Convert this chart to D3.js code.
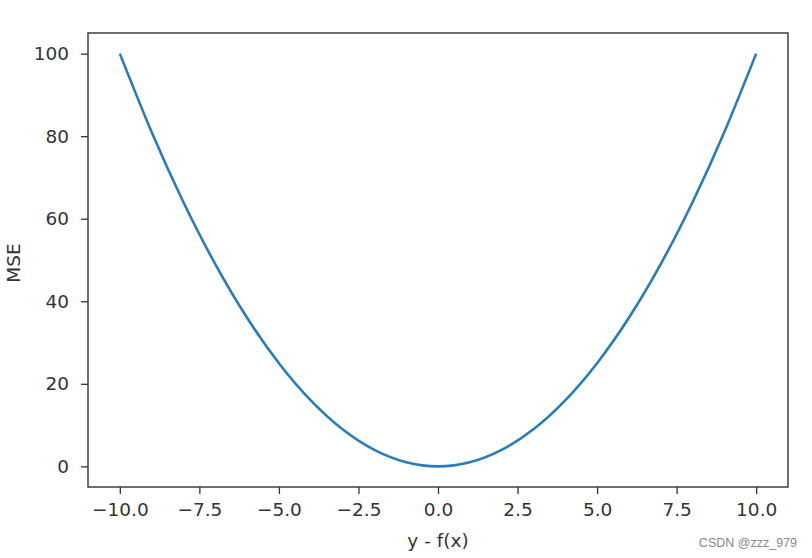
<!DOCTYPE html>
<html>
<head>
<meta charset="utf-8">
<script src="https://cdn.jsdelivr.net/npm/d3@7"></script>
<style>
  body { margin: 0; background: #fff; }
  svg { display: block; font-family: "DejaVu Sans", sans-serif; }
</style>
</head>
<body>
<script>
// data
var errors = [-10, -9, -8, -7, -6, -5, -4, -3, -2, -1, 0, 1, 2, 3, 4, 5, 6, 7, 8, 9, 10];
var mse = [100, 81, 64, 49, 36, 25, 16, 9, 4, 1, 0, 1, 4, 9, 16, 25, 36, 49, 64, 81, 100];
var xTicks = [-10, -7.5, -5, -2.5, 0, 2.5, 5, 7.5, 10];
var yTicks = [0, 20, 40, 60, 80, 100];

var width = 812;
var height = 558;

var margin = {
    top: 33,
    bottom: 71,
    left: 88,
    right: 24,
}

var svg = d3.select("body")
    .append("svg")
    .attr("width", width)
    .attr("height", height);

var innerW = width - margin.left - margin.right;
var innerH = height - margin.top - margin.bottom;

var g = svg.append('g')
    .attr('transform', 'translate(' + margin.left + ',' + margin.top + ')');

var x = d3.scaleLinear().domain([-11, 11]).range([0, innerW]);
var y = d3.scaleLinear().domain([-5, 105]).range([innerH, 0]);

var points = errors.map(function(d, i) {
    return [d, mse[i]];
});

var line = d3.line()
    .x(function(d) { return x(d[0]); })
    .y(function(d) { return y(d[1]); })
    .curve(d3.curveNatural);

g.append("path")
    .datum(points)
    .attr("fill", "none")
    .attr("stroke", "#2a7cb8")
    .attr("stroke-width", 2.6)
    .attr("d", line);

// axes
var fmtX = function(d) { return d3.format(".1f")(d).replace("-", "\u2212"); };

var xAxis = g.append("g")
    .attr("transform", "translate(0," + innerH + ")")
    .call(d3.axisBottom(x).tickValues(xTicks).tickFormat(fmtX).tickSize(7).tickPadding(9));

var yAxis = g.append("g")
    .call(d3.axisLeft(y).tickValues(yTicks).tickSize(7).tickPadding(12));

[xAxis, yAxis].forEach(function(a) {
    a.select(".domain").remove();
    a.selectAll("line").attr("stroke", "#333").attr("stroke-width", 1.3);
    a.selectAll("text")
        .attr("fill", "#333")
        .style("font-size", "18.5px")
        .style("font-family", "DejaVu Sans, sans-serif");
});

// frame
g.append("rect")
    .attr("width", innerW)
    .attr("height", innerH)
    .attr("fill", "none")
    .attr("stroke", "#333")
    .attr("stroke-width", 1.4);

// labels
svg.append("text")
    .attr("x", margin.left + innerW / 2)
    .attr("y", 547)
    .attr("text-anchor", "middle")
    .attr("fill", "#333")
    .style("font-size", "18.5px")
    .text("y - f(x)");

svg.append("text")
    .attr("transform", "translate(20," + (margin.top + innerH / 2 + 3) + ") rotate(-90)")
    .attr("text-anchor", "middle")
    .attr("fill", "#333")
    .style("font-size", "18.5px")
    .text("MSE");

svg.append("text")
    .attr("x", 797)
    .attr("y", 547)
    .attr("text-anchor", "end")
    .attr("fill", "#888")
    .style("font-size", "12.5px")
    .style("font-family", "Liberation Sans, Arial, sans-serif")
    .text("CSDN @zzz_979");
</script>
</body>
</html>
